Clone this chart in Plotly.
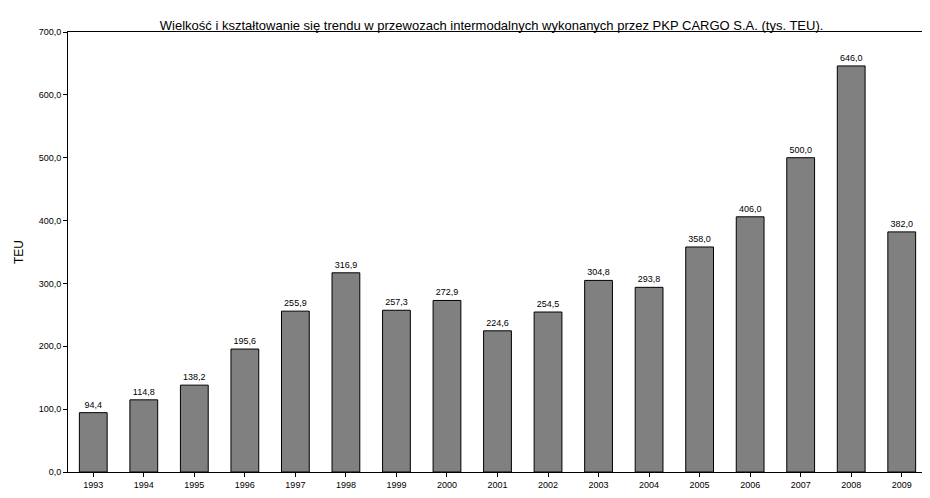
import plotly.graph_objects as go

years = ["1993", "1994", "1995", "1996", "1997", "1998", "1999", "2000", "2001",
         "2002", "2003", "2004", "2005", "2006", "2007", "2008", "2009"]
teu = [94.4, 114.8, 138.2, 195.6, 255.9, 316.9, 257.3, 272.9, 224.6,
       254.5, 304.8, 293.8, 358.0, 406.0, 500.0, 646.0, 382.0]
labels = [f"{v:.1f}".replace(".", ",") for v in teu]
y_ticks = [0, 100, 200, 300, 400, 500, 600, 700]
y_text = [f"{v:.1f}".replace(".", ",") for v in y_ticks]

fig = go.Figure(go.Bar(
    x=years, y=teu, text=labels, textposition="outside",
    textfont=dict(size=9, color="black"),
    marker=dict(color="#808080", line=dict(color="black", width=1)),
    width=0.55, cliponaxis=False,
))

fig.update_layout(
    width=930, height=498,
    paper_bgcolor="white", plot_bgcolor="white",
    font=dict(family="Liberation Sans, Arial", color="black"),
    title=dict(text="Wielkość i kształtowanie się trendu w przewozach intermodalnych wykonanych przez PKP CARGO S.A. (tys. TEU).",
               x=0.52, xanchor="center", y=0.975, font=dict(size=13)),
    margin=dict(l=48, r=10, t=24, b=34),
    showlegend=False,
)
fig.update_xaxes(showline=True, linecolor="black", mirror=True, ticks="outside",
                 ticklen=4, tickcolor="black", tickfont=dict(size=9))
fig.update_yaxes(range=[0, 700], tickvals=y_ticks, ticktext=y_text, showgrid=False,
                 showline=True, linecolor="black", mirror=True, ticks="outside",
                 ticklen=4, tickcolor="black", tickfont=dict(size=9),
                 title=dict(text="TEU", font=dict(size=12), standoff=12))

fig.write_html("out.html")
